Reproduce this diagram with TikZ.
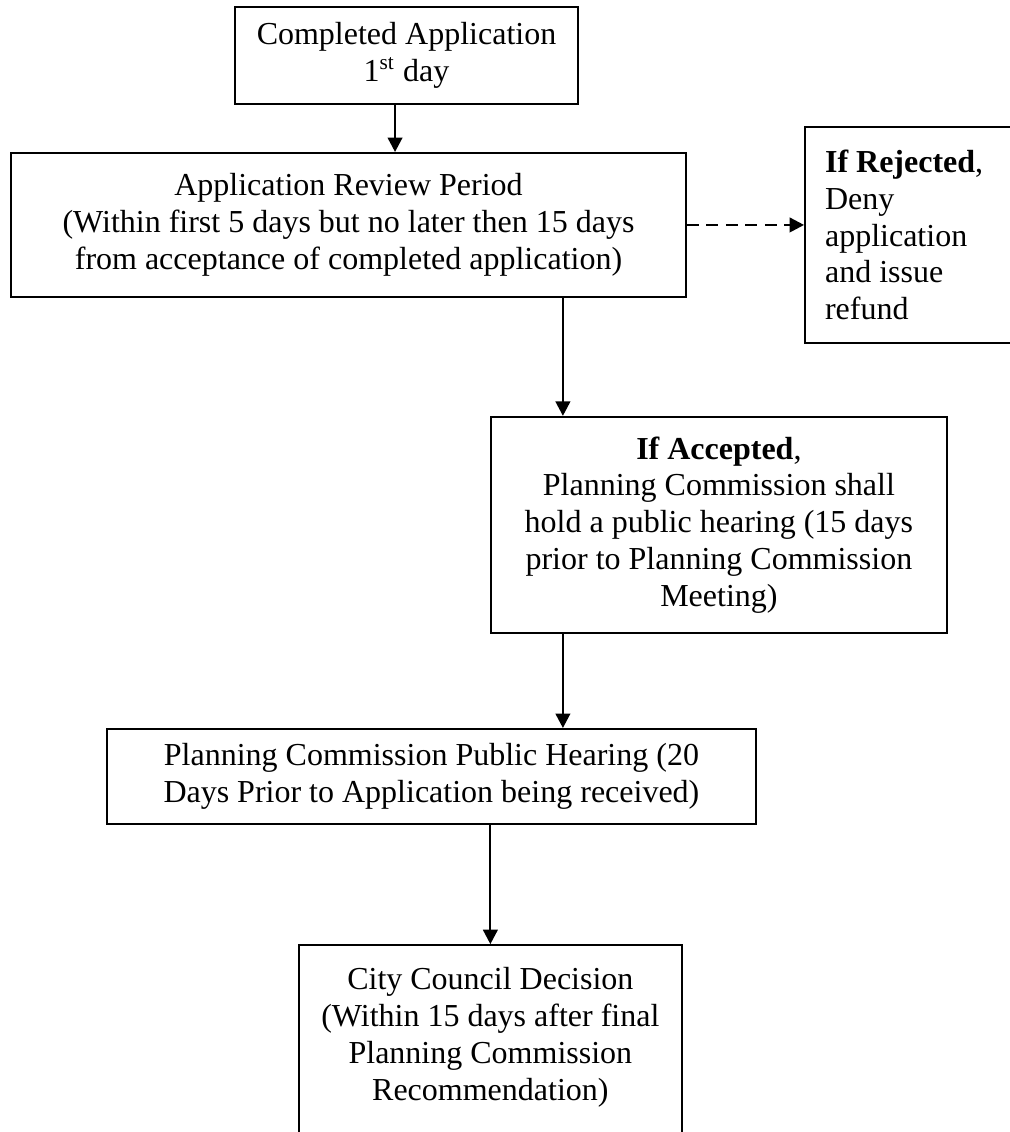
\documentclass[tikz,border=0pt]{standalone}
\usepackage{fontspec}
\setmainfont{Liberation Serif}
\usetikzlibrary{arrows.meta,positioning}

\begin{document}
\begin{tikzpicture}[
    x=0.375pt, y=-0.375pt,
    font=\fontsize{12pt}{13.8pt}\selectfont,
    stepbox/.style={rectangle, draw, line width=0.75pt, align=center},
    sidebox/.style={rectangle, draw, line width=0.75pt, align=flush left, text width=90pt, inner xsep=7.5pt, minimum height=81pt},
    arrow/.style={-{Triangle[length=5.4pt,width=5.5pt]}, line width=0.75pt},
    dasharrow/.style={arrow, dash pattern=on 4.5pt off 2.8pt}
]
\useasboundingbox (0,0) rectangle (1010,1132);

% Start
\node[stepbox, minimum width=128.6pt, minimum height=36.4pt] (completed) at (406.5,55.5) {Completed Application\\1\textsuperscript{st} day};

% Review period
\node[stepbox, minimum width=253.1pt, minimum height=54pt, below=17.6pt of completed, xshift=-21.75pt] (review) {Application Review Period\\(Within first 5 days but no later then 15 days\\from acceptance of completed application)};

% Rejected
\node[sidebox, right=43.9pt of review, yshift=-3.75pt] (reject) {\textbf{If Rejected},\\Deny\\application\\and issue\\refund};

% Accepted
\node[stepbox, minimum width=171pt, minimum height=81pt, below=44.2pt of review, xshift=138.9pt] (accept) {\textbf{If Accepted},\\Planning Commission shall\\hold a public hearing (15 days\\prior to Planning Commission\\Meeting)};

% Public hearing
\node[stepbox, minimum width=243.4pt, minimum height=35.6pt, below=35.3pt of accept, xshift=-107.8pt] (hearing) {Planning Commission Public Hearing (20\\Days Prior to Application being received)};

% Council decision
\node[stepbox, minimum width=143.6pt, inner ysep=8.4pt, below=44.7pt of hearing, xshift=22.1pt] (decision) {City Council Decision\\(Within 15 days after final\\Planning Commission\\Recommendation)\\\mbox{}\\\mbox{}};

% Flow arrows
\draw[arrow] ([xshift=-4.3pt]completed.south) -- ([xshift=-4.3pt]completed.south |- review.north);
\draw[dasharrow] (review.east) -- (review.east -| reject.west);
\draw[arrow] ([xshift=80.4pt]review.south) -- ([xshift=80.4pt]review.south |- accept.north);
\draw[arrow] ([xshift=-58.5pt]accept.south) -- ([xshift=-58.5pt]accept.south |- hearing.north);
\draw[arrow] (hearing.south -| decision.north) -- (decision.north);

\end{tikzpicture}
\end{document}
